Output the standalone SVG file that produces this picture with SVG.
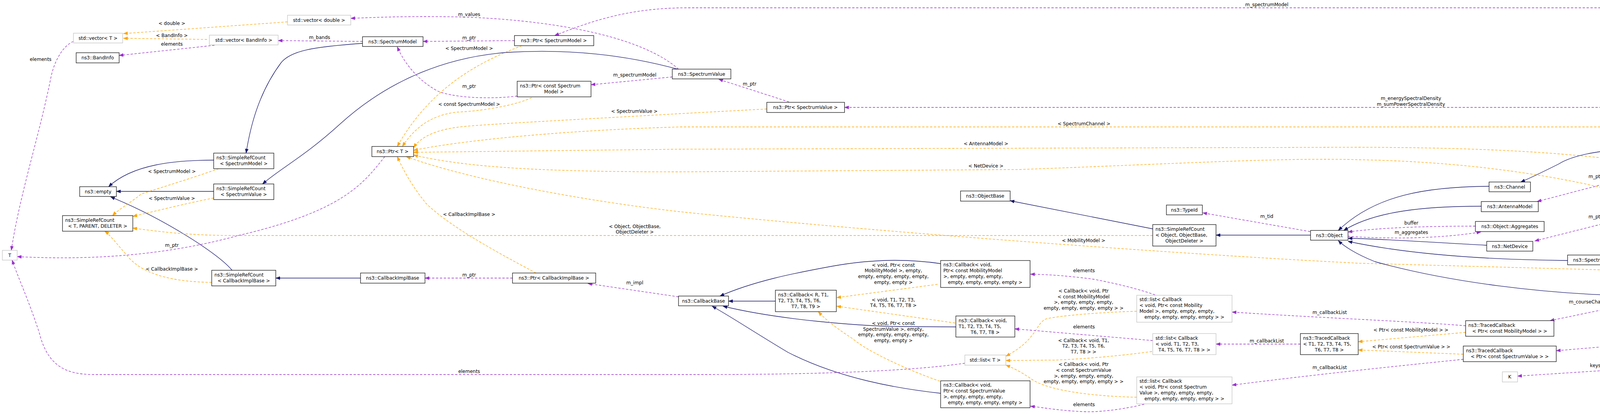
<svg xmlns="http://www.w3.org/2000/svg" width="5208" height="1060" viewBox="0 0 5208 1060">
<style>
text{font-family:"DejaVu Sans","Liberation Sans",sans-serif;font-size:12px;fill:#000}
.m{text-anchor:middle}
.n rect{fill:#fff;stroke:#000;stroke-width:1.2}
.g rect{fill:#fff;stroke:#bfbfbf;stroke-width:1.2}
.s rect{fill:#bfbfbf;stroke:#000;stroke-width:1.2}
.i{fill:none;stroke:#191970;stroke-width:1.3;marker-end:url(#ai)}
.u{fill:none;stroke:#9a32cd;stroke-width:1.3;stroke-dasharray:6,4;marker-end:url(#au)}
.t{fill:none;stroke:#ffa500;stroke-width:1.3;stroke-dasharray:6,4;marker-end:url(#at)}
</style>
<defs>
<marker id="ai" markerUnits="userSpaceOnUse" markerWidth="12" markerHeight="9" refX="11" refY="4.5" orient="auto"><path d="M0,0L12,4.5L0,9z" fill="#191970"/></marker>
<marker id="au" markerUnits="userSpaceOnUse" markerWidth="12" markerHeight="9" refX="11" refY="4.5" orient="auto"><path d="M0,0L12,4.5L0,9z" fill="#9a32cd"/></marker>
<marker id="at" markerUnits="userSpaceOnUse" markerWidth="12" markerHeight="9" refX="11" refY="4.5" orient="auto"><path d="M0,0L12,4.5L0,9z" fill="#ffa500"/></marker>
</defs>
<rect width="5208" height="1060" fill="#fff"/>
<g id="edges">
<path class="t" d="M736,56L316,86"/>
<path class="t" d="M530,101L316,98"/>
<path class="u" d="M549,116L305,142"/>
<path class="u" d="M188,106C165,115 140,150 130,200C100,350 50,500 29,641"/>
<path class="u" d="M928,106L712,104"/>
<path class="i" d="M928,111C800,120 745,130 720,160C660,240 640,330 630,392"/>
<path class="i" d="M1738,178C1600,140 1450,125 1300,134C1150,145 1000,200 870,318C780,400 720,430 672,471"/>
<path class="i" d="M547,410C450,410 340,420 278,478"/>
<path class="i" d="M547,490L298,490"/>
<path class="i" d="M594,692C560,650 420,560 283,504"/>
<path class="t" d="M560,432C480,460 380,490 361,497C340,515 305,535 288,552"/>
<path class="t" d="M547,507C480,520 400,540 340,554"/>
<path class="t" d="M542,723C450,722 370,705 330,660C300,625 280,600 268,592"/>
<path class="t" d="M2951,603L600,603C480,603 400,592 340,584"/>
<path class="u" d="M985,401C930,470 880,540 610,603C440,650 250,668 44,657"/>
<path class="u" d="M1317,104L1083,106"/>
<path class="t" d="M1336,117C1250,150 1110,210 1017,375"/>
<path class="u" d="M1324,246C1250,255 1160,250 1120,233C1060,200 1030,150 1017,120"/>
<path class="t" d="M1361,250C1320,270 1230,285 1170,287C1100,295 1060,330 1030,375"/>
<path class="u" d="M1721,197L1513,217"/>
<path class="u" d="M1737,177C1650,100 1450,55 1200,44C1050,40 950,45 898,47"/>
<path class="u" d="M2020,261L1840,203"/>
<path class="t" d="M1963,279L1740,291C1500,305 1200,320 1170,326C1100,335 1070,360 1059,378"/>
<path class="t" d="M4673,363C4600,335 4500,327 4340,325L1740,325C1400,335 1150,365 1059,385"/>
<path class="t" d="M4182,414C4000,390 3800,378 3480,377L1740,382L1059,390"/>
<path class="t" d="M4235,516C4050,460 3800,415 3480,409C3280,403 3000,420 2610,434L1740,440C1400,440 1200,430 1059,397"/>
<path class="t" d="M4655,706L3480,674C3000,650 2200,590 1740,542C1500,515 1200,460 1040,401"/>
<path class="t" d="M1372,699C1280,650 1150,580 1090,520C1050,470 1030,430 1017,401"/>
<path class="u" d="M1312,712L1088,712"/>
<path class="i" d="M923,712L706,712"/>
<path class="u" d="M1737,760L1505,726"/>
<path class="i" d="M1985,771L1865,771"/>
<path class="i" d="M2408,675C2340,665 2250,660 2128,682C2030,700 1930,720 1843,758"/>
<path class="i" d="M2447,837L2295,836C2200,834 2000,820 1851,784"/>
<path class="i" d="M2408,1007C2300,995 2150,970 2017,902C1930,850 1870,810 1823,784"/>
<path class="t" d="M2400,728L2142,762"/>
<path class="t" d="M2445,827L2142,784"/>
<path class="t" d="M2406,976C2330,950 2220,900 2184,868C2140,840 2110,815 2095,798"/>
<path class="u" d="M2957,755C2900,735 2832,721 2800,715C2740,707 2690,703 2638,702"/>
<path class="t" d="M2910,797C2800,800 2700,810 2677,817C2650,830 2655,870 2575,912"/>
<path class="u" d="M2951,872L2598,842"/>
<path class="t" d="M2949,900C2860,912 2776,919 2700,922L2575,923"/>
<path class="t" d="M2910,1017C2800,1015 2680,1000 2640,970C2610,950 2590,940 2575,935"/>
<path class="u" d="M2929,1035C2870,1050 2800,1056 2776,1054C2720,1052 2680,1045 2638,1040"/>
<path class="u" d="M2470,930C2300,955 2000,959 1800,959L240,959C160,959 120,930 100,850C70,760 50,720 31,666"/>
<path class="u" d="M3329,881L3113,881"/>
<path class="u" d="M3752,834C3600,822 3400,815 3154,799"/>
<path class="u" d="M3746,920C3600,935 3400,955 3154,986"/>
<path class="t" d="M3752,851L3477,875"/>
<path class="t" d="M3746,907L3477,896"/>
<path class="u" d="M4209,771L3968,821"/>
<path class="i" d="M3812,477C3650,478 3520,500 3426,590"/>
<path class="i" d="M3792,528C3650,528 3520,540 3440,590"/>
<path class="u" d="M3777,579C3650,579 3530,583 3451,594"/>
<path class="u" d="M3451,605C3550,612 3680,612 3791,594"/>
<path class="i" d="M3806,628C3650,620 3550,612 3451,610"/>
<path class="i" d="M4013,667C3800,665 3600,650 3451,618"/>
<path class="i" d="M4209,758C3950,755 3700,720 3520,670C3470,650 3440,630 3426,616"/>
<path class="i" d="M4195,378C4100,385 4030,395 3990,420C3950,440 3920,455 3893,466"/>
<path class="u" d="M4229,439L3935,516"/>
<path class="u" d="M4226,542L3929,617"/>
<path class="u" d="M4640,376L4362,376"/>
<path class="u" d="M3354,593L3079,545"/>
<path class="i" d="M3355,602L3113,602"/>
<path class="i" d="M2951,586L2586,514"/>
<path class="u" d="M4703,719C4660,735 4600,748 4348,757"/>
<path class="u" d="M4225,941L3885,963"/>
<path class="u" d="M4707,924L4332,935"/>
<path class="i" d="M5034,541L4152,654"/>
<path class="u" d="M5113,516C5100,350 5060,150 4960,60C4900,22 4820,20 4770,20L1760,20C1600,20 1500,60 1420,91"/>
<path class="u" d="M5111,516C5060,400 4950,300 4820,280C4790,276 4780,275 4760,275L2162,275"/>
<path class="u" d="M5106,516C5080,470 5040,430 4978,412C4920,395 4890,388 4857,382"/>
<path class="u" d="M5045,516L4375,436"/>
<path class="u" d="M5034,529L4362,529"/>
<path class="u" d="M5110,542C5080,620 5050,660 5017,672C4960,700 4900,710 4842,712"/>
<path class="u" d="M5111,542C5070,680 4990,730 4895,767C4750,820 4550,860 4340,868L3984,898"/>
<path class="u" d="M5114,542C5100,700 5070,860 5023,898C4960,950 4870,950 4791,934"/>
</g>
<g id="edge-labels">
<text class="m" x="440" y="64">&lt; double &gt;</text>
<text class="m" x="440" y="95">&lt; BandInfo &gt;</text>
<text class="m" x="440" y="117">elements</text>
<text class="m" x="104" y="156">elements</text>
<text class="m" x="818" y="100">m_bands</text>
<text class="m" x="440" y="443">&lt; SpectrumModel &gt;</text>
<text class="m" x="440" y="512">&lt; SpectrumValue &gt;</text>
<text class="m" x="440" y="632">m_ptr</text>
<text class="m" x="440" y="693">&lt; CallbackImplBase &gt;</text>
<text class="m" x="1201" y="41">m_values</text>
<text class="m" x="1201" y="101">m_ptr</text>
<text class="m" x="1201" y="128">&lt; SpectrumModel &gt;</text>
<text class="m" x="1625" y="196">m_spectrumModel</text>
<text class="m" x="1201" y="225">m_ptr</text>
<text class="m" x="1201" y="271">&lt; const SpectrumModel &gt;</text>
<text class="m" x="1624" y="289">&lt; SpectrumValue &gt;</text>
<text class="m" x="1201" y="553">&lt; CallbackImplBase &gt;</text>
<text class="m" x="1625" y="584">&lt; Object, ObjectBase,</text>
<text class="m" x="1625" y="598">ObjectDeleter &gt;</text>
<text class="m" x="1201" y="708">m_ptr</text>
<text class="m" x="1625" y="728">m_impl</text>
<text class="m" x="1201" y="955">elements</text>
<text class="m" x="1919" y="219">m_ptr</text>
<text class="m" x="2524" y="372">&lt; AntennaModel &gt;</text>
<text class="m" x="2524" y="429">&lt; NetDevice &gt;</text>
<text class="m" x="2287" y="683">&lt; void, Ptr&lt; const</text>
<text class="m" x="2287" y="697">MobilityModel &gt;, empty,</text>
<text class="m" x="2287" y="712">empty, empty, empty, empty,</text>
<text class="m" x="2287" y="727">empty, empty &gt;</text>
<text class="m" x="2287" y="772">&lt; void, T1, T2, T3,</text>
<text class="m" x="2287" y="786">T4, T5, T6, T7, T8 &gt;</text>
<text class="m" x="2287" y="832">&lt; void, Ptr&lt; const</text>
<text class="m" x="2287" y="847">SpectrumValue &gt;, empty,</text>
<text class="m" x="2287" y="861">empty, empty, empty, empty,</text>
<text class="m" x="2287" y="876">empty, empty &gt;</text>
<text class="m" x="3243" y="16">m_spectrumModel</text>
<text class="m" x="2775" y="321">&lt; SpectrumChannel &gt;</text>
<text class="m" x="2774" y="620">&lt; MobilityModel &gt;</text>
<text class="m" x="2775" y="697">elements</text>
<text class="m" x="2774" y="749">&lt; Callback&lt; void, Ptr</text>
<text class="m" x="2774" y="764">&lt; const MobilityModel</text>
<text class="m" x="2774" y="778">&gt;, empty, empty, empty,</text>
<text class="m" x="2774" y="793">empty, empty, empty, empty &gt; &gt;</text>
<text class="m" x="3404" y="804">m_callbackList</text>
<text class="m" x="2775" y="841">elements</text>
<text class="m" x="2774" y="876">&lt; Callback&lt; void, T1,</text>
<text class="m" x="2774" y="890">T2, T3, T4, T5, T6,</text>
<text class="m" x="2774" y="905">T7, T8 &gt; &gt;</text>
<text class="m" x="3243" y="877">m_callbackList</text>
<text class="m" x="2774" y="937">&lt; Callback&lt; void, Ptr</text>
<text class="m" x="2774" y="952">&lt; const SpectrumValue</text>
<text class="m" x="2774" y="967">&gt;, empty, empty, empty,</text>
<text class="m" x="2774" y="981">empty, empty, empty, empty &gt; &gt;</text>
<text class="m" x="3404" y="945">m_callbackList</text>
<text class="m" x="2775" y="1040">elements</text>
<text class="m" x="3243" y="558">m_tid</text>
<text class="m" x="3612" y="256">m_energySpectralDensity</text>
<text class="m" x="3612" y="271">m_sumPowerSpectralDensity</text>
<text class="m" x="4084" y="456">m_ptr</text>
<text class="m" x="3613" y="575">buffer</text>
<text class="m" x="3613" y="599">m_aggregates</text>
<text class="m" x="4084" y="559">m_ptr</text>
<text class="m" x="4084" y="777">m_courseChangeTrace</text>
<text class="m" x="3612" y="849">&lt; Ptr&lt; const MobilityModel &gt; &gt;</text>
<text class="m" x="3613" y="892">&lt; Ptr&lt; const SpectrumValue &gt; &gt;</text>
<text class="m" x="4084" y="940">keys</text>
<text class="m" x="4510" y="372">m_ptr</text>
<text class="m" x="4947" y="379">m_channel</text>
<text class="m" x="4751" y="460">m_antenna</text>
<text class="m" x="4751" y="524">m_netDevice</text>
<text class="m" x="4947" y="672">m_mobility</text>
<text class="m" x="4510" y="736">m_ptr</text>
<text class="m" x="4509" y="813">m_averagePowerSpectralDensity</text>
<text class="m" x="4509" y="828">ReportTrace</text>
<text class="m" x="4947" y="888">m_lastChangeTime</text>
<text class="m" x="4947" y="902">m_resolution</text>
<text class="m" x="4509" y="923">g_markingTimes</text>
</g>
<g id="n-vecT" class="g"><rect x="188" y="85" width="126" height="25"/><text class="m" x="251" y="102">std::vector&lt; T &gt;</text></g>
<g id="n-vecdouble" class="g"><rect x="736" y="39" width="162" height="25"/><text class="m" x="817" y="56">std::vector&lt; double &gt;</text></g>
<g id="n-vecband" class="g"><rect x="536" y="90" width="176" height="25"/><text class="m" x="624" y="107">std::vector&lt; BandInfo &gt;</text></g>
<g id="n-bandinfo" class="n"><rect x="195" y="135" width="110" height="26"/><text class="m" x="250" y="152">ns3::BandInfo</text></g>
<g id="n-srcSM" class="n"><rect x="547" y="392" width="154" height="40"/><text x="554" y="408">ns3::SimpleRefCount</text><text class="m" x="624" y="423">&lt; SpectrumModel &gt;</text></g>
<g id="n-empty" class="n"><rect x="204" y="478" width="94" height="25"/><text class="m" x="251" y="495">ns3::empty</text></g>
<g id="n-srcSV" class="n"><rect x="547" y="471" width="154" height="40"/><text x="554" y="487">ns3::SimpleRefCount</text><text class="m" x="624" y="502">&lt; SpectrumValue &gt;</text></g>
<g id="n-srcT" class="n"><rect x="160" y="552" width="180" height="40"/><text x="167" y="568">ns3::SimpleRefCount</text><text class="m" x="250" y="583">&lt; T, PARENT, DELETER &gt;</text></g>
<g id="n-T" class="g"><rect x="6" y="641" width="38" height="25"/><text class="m" x="25" y="658">T</text></g>
<g id="n-srcCIB" class="n"><rect x="542" y="692" width="164" height="40"/><text x="549" y="708">ns3::SimpleRefCount</text><text class="m" x="624" y="723">&lt; CallbackImplBase &gt;</text></g>
<g id="n-SM" class="n"><rect x="928" y="94" width="155" height="25"/><text class="m" x="1005" y="111">ns3::SpectrumModel</text></g>
<g id="n-ptrSM" class="n"><rect x="1317" y="91" width="203" height="26"/><text class="m" x="1418" y="108">ns3::Ptr&lt; SpectrumModel &gt;</text></g>
<g id="n-SV" class="n"><rect x="1721" y="177" width="150" height="25"/><text class="m" x="1796" y="194">ns3::SpectrumValue</text></g>
<g id="n-ptrCSM" class="n"><rect x="1324" y="208" width="189" height="40"/><text x="1331" y="224">ns3::Ptr&lt; const Spectrum</text><text class="m" x="1418" y="239">Model &gt;</text></g>
<g id="n-ptrT" class="n"><rect x="952" y="375" width="107" height="26"/><text class="m" x="1005" y="392">ns3::Ptr&lt; T &gt;</text></g>
<g id="n-CIB" class="n"><rect x="923" y="699" width="165" height="26"/><text class="m" x="1005" y="716">ns3::CallbackImplBase</text></g>
<g id="n-ptrCIB" class="n"><rect x="1312" y="699" width="213" height="26"/><text class="m" x="1418" y="716">ns3::Ptr&lt; CallbackImplBase &gt;</text></g>
<g id="n-ptrSV" class="n"><rect x="1963" y="262" width="199" height="26"/><text class="m" x="2062" y="279">ns3::Ptr&lt; SpectrumValue &gt;</text></g>
<g id="n-objbase" class="n"><rect x="2459" y="489" width="127" height="26"/><text class="m" x="2522" y="506">ns3::ObjectBase</text></g>
<g id="n-cbbase" class="n"><rect x="1737" y="758" width="128" height="25"/><text class="m" x="1801" y="775">ns3::CallbackBase</text></g>
<g id="n-cbR" class="n"><rect x="1985" y="743" width="156" height="55"/><text x="1992" y="759">ns3::Callback&lt; R, T1,</text><text x="1992" y="774">T2, T3, T4, T5, T6,</text><text class="m" x="2063" y="789">T7, T8, T9 &gt;</text></g>
<g id="n-cbMM" class="n"><rect x="2408" y="667" width="229" height="69"/><text x="2415" y="682">ns3::Callback&lt; void,</text><text x="2415" y="697">Ptr&lt; const MobilityModel</text><text x="2415" y="712">&gt;, empty, empty, empty,</text><text class="m" x="2522" y="727">empty, empty, empty, empty &gt;</text></g>
<g id="n-cbT1" class="n"><rect x="2447" y="809" width="151" height="54"/><text x="2454" y="825">ns3::Callback&lt; void,</text><text x="2454" y="840">T1, T2, T3, T4, T5,</text><text class="m" x="2522" y="855">T6, T7, T8 &gt;</text></g>
<g id="n-listT" class="g"><rect x="2470" y="909" width="105" height="26"/><text class="m" x="2522" y="926">std::list&lt; T &gt;</text></g>
<g id="n-cbSV" class="n"><rect x="2408" y="975" width="229" height="69"/><text x="2415" y="990">ns3::Callback&lt; void,</text><text x="2415" y="1005">Ptr&lt; const SpectrumValue</text><text x="2415" y="1020">&gt;, empty, empty, empty,</text><text class="m" x="2522" y="1035">empty, empty, empty, empty &gt;</text></g>
<g id="n-typeid" class="n"><rect x="2986" y="525" width="92" height="25"/><text class="m" x="3032" y="542">ns3::TypeId</text></g>
<g id="n-srcObj" class="n"><rect x="2951" y="575" width="162" height="55"/><text x="2958" y="591">ns3::SimpleRefCount</text><text x="2958" y="606">&lt; Object, ObjectBase,</text><text class="m" x="3032" y="621">ObjectDeleter &gt;</text></g>
<g id="n-object" class="n"><rect x="3355" y="590" width="96" height="25"/><text class="m" x="3403" y="607">ns3::Object</text></g>
<g id="n-listMM" class="g"><rect x="2910" y="756" width="244" height="69"/><text x="2917" y="771">std::list&lt; Callback</text><text x="2917" y="786">&lt; void, Ptr&lt; const Mobility</text><text x="2917" y="801">Model &gt;, empty, empty, empty,</text><text class="m" x="3032" y="816">empty, empty, empty, empty &gt; &gt;</text></g>
<g id="n-listT1" class="g"><rect x="2951" y="854" width="162" height="54"/><text x="2958" y="870">std::list&lt; Callback</text><text x="2958" y="885">&lt; void, T1, T2, T3,</text><text class="m" x="3032" y="900">T4, T5, T6, T7, T8 &gt; &gt;</text></g>
<g id="n-tcT1" class="n"><rect x="3329" y="854" width="148" height="54"/><text x="3336" y="870">ns3::TracedCallback</text><text x="3336" y="885">&lt; T1, T2, T3, T4, T5,</text><text class="m" x="3403" y="900">T6, T7, T8 &gt;</text></g>
<g id="n-listSV" class="g"><rect x="2910" y="965" width="244" height="69"/><text x="2917" y="980">std::list&lt; Callback</text><text x="2917" y="995">&lt; void, Ptr&lt; const Spectrum</text><text x="2917" y="1010">Value &gt;, empty, empty, empty,</text><text class="m" x="3032" y="1025">empty, empty, empty, empty &gt; &gt;</text></g>
<g id="n-channel" class="n"><rect x="3812" y="466" width="106" height="25"/><text class="m" x="3865" y="483">ns3::Channel</text></g>
<g id="n-antenna" class="n"><rect x="3792" y="516" width="146" height="26"/><text class="m" x="3865" y="533">ns3::AntennaModel</text></g>
<g id="n-aggr" class="n"><rect x="3777" y="567" width="176" height="26"/><text class="m" x="3865" y="584">ns3::Object::Aggregates</text></g>
<g id="n-netdev" class="n"><rect x="3806" y="618" width="118" height="25"/><text class="m" x="3865" y="635">ns3::NetDevice</text></g>
<g id="n-tcMM" class="n"><rect x="3752" y="821" width="226" height="40"/><text x="3759" y="837">ns3::TracedCallback</text><text class="m" x="3865" y="852">&lt; Ptr&lt; const MobilityModel &gt; &gt;</text></g>
<g id="n-tcSV" class="n"><rect x="3746" y="886" width="238" height="40"/><text x="3753" y="902">ns3::TracedCallback</text><text class="m" x="3865" y="917">&lt; Ptr&lt; const SpectrumValue &gt; &gt;</text></g>
<g id="n-K" class="g"><rect x="3846" y="952" width="39" height="26"/><text class="m" x="3865" y="969">K</text></g>
<g id="n-specchan" class="n"><rect x="4195" y="363" width="167" height="26"/><text class="m" x="4278" y="380">ns3::SpectrumChannel</text></g>
<g id="n-ptrAnt" class="n"><rect x="4182" y="414" width="193" height="26"/><text class="m" x="4278" y="431">ns3::Ptr&lt; AntennaModel &gt;</text></g>
<g id="n-ptrND" class="n"><rect x="4195" y="516" width="167" height="26"/><text class="m" x="4278" y="533">ns3::Ptr&lt; NetDevice &gt;</text></g>
<g id="n-specphy" class="n"><rect x="4013" y="653" width="139" height="25"/><text class="m" x="4082" y="670">ns3::SpectrumPhy</text></g>
<g id="n-mobility" class="n"><rect x="4209" y="745" width="139" height="25"/><text class="m" x="4278" y="762">ns3::MobilityModel</text></g>
<g id="n-setK" class="g"><rect x="4225" y="924" width="107" height="26"/><text class="m" x="4278" y="941">std::set&lt; K &gt;</text></g>
<g id="n-ptrSC" class="n"><rect x="4640" y="363" width="217" height="26"/><text class="m" x="4748" y="380">ns3::Ptr&lt; SpectrumChannel &gt;</text></g>
<g id="n-ptrMM" class="n"><rect x="4655" y="694" width="187" height="25"/><text class="m" x="4748" y="711">ns3::Ptr&lt; MobilityModel &gt;</text></g>
<g id="n-time" class="n"><rect x="4707" y="910" width="84" height="25"/><text class="m" x="4749" y="927">ns3::Time</text></g>
<g id="n-analyzer" class="s"><rect x="5034" y="516" width="171" height="26"/><text class="m" x="5119" y="533">ns3::SpectrumAnalyzer</text></g>
</svg>
